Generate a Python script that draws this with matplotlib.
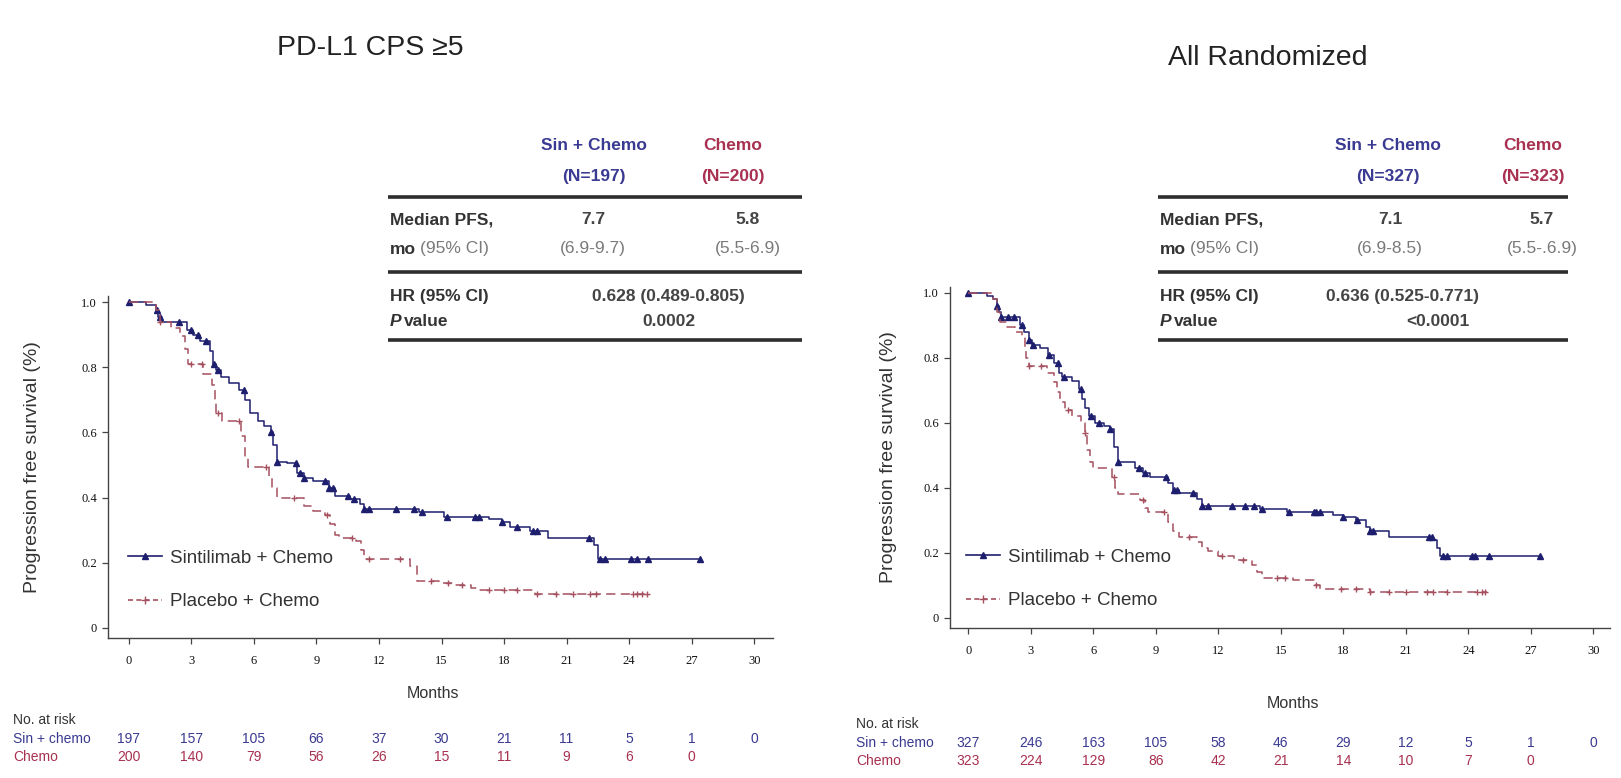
import numpy as np
import matplotlib.pyplot as plt
from matplotlib.lines import Line2D
import matplotlib.transforms as mtransforms

W, H = 1621, 778
plt.rcParams["font.family"] = ["Liberation Sans", "DejaVu Sans"]

BLUE = "#1e1e6e"
RED = "#a4505f"
HEAD_BLUE = "#3a3a92"
HEAD_RED = "#a83050"
TXT = "#333333"
GRAY = "#7a7a7a"

# ---- data ----
months_ticks = [0, 3, 6, 9, 12, 15, 18, 21, 24, 27, 30]

# PD-L1 CPS >=5
cps_sin_t = [0, 0.8, 1.3, 1.4, 1.6, 2.8, 3.1, 3.4, 3.9, 4.05, 4.2, 4.4, 4.8, 5.3, 5.55, 5.8,
             6.2, 6.5, 6.8, 6.9, 7.1, 7.6, 8.05, 8.4, 8.85, 9.6, 9.9, 10.6, 11.1, 11.3, 13.9,
             15.1, 17.3, 17.9, 18.3, 19.25, 20.1, 22.3, 22.5, 27.4]
cps_sin_s = [1.0, 0.99, 0.975, 0.955, 0.94, 0.915, 0.90, 0.88, 0.85, 0.81, 0.79, 0.77, 0.75, 0.73, 0.70, 0.66,
             0.635, 0.62, 0.60, 0.56, 0.51, 0.505, 0.475, 0.46, 0.45, 0.43, 0.405, 0.395, 0.38, 0.365, 0.355,
             0.34, 0.335, 0.325, 0.31, 0.296, 0.276, 0.255, 0.21, 0.21]
cps_sin_cens = [0.0, 1.35, 1.5, 2.4, 3.0, 3.3, 3.7, 4.1, 4.3, 5.5, 6.8, 7.1, 8.0, 8.2, 8.4, 9.4, 9.6,
                9.8, 10.5, 10.8, 11.3, 11.5, 12.8, 13.7, 14.05, 15.25, 16.6, 16.8, 17.9, 18.6, 19.4,
                19.6, 22.05, 22.6, 22.85, 24.1, 24.4, 24.9, 27.4]
cps_pbo_t = [0, 1.3, 1.5, 2.0, 2.45, 2.7, 2.85, 3.57, 3.97, 4.13, 4.2, 4.45, 5.4, 5.57, 5.73,
             6.7, 6.85, 7.1, 8.4, 8.85, 9.4, 9.65, 9.9, 10.1, 10.9, 11.15, 11.3, 13.5, 13.8,
             14.9, 15.6, 16.4, 16.8, 19.5, 24.85]
cps_pbo_s = [1.0, 0.975, 0.94, 0.92, 0.895, 0.855, 0.81, 0.78, 0.745, 0.70, 0.66, 0.635, 0.59, 0.525, 0.495,
             0.465, 0.43, 0.40, 0.375, 0.36, 0.345, 0.32, 0.285, 0.275, 0.266, 0.24, 0.21, 0.19, 0.143,
             0.137, 0.132, 0.122, 0.115, 0.105, 0.105]
cps_pbo_cens = [1.5, 3.0, 3.5, 4.3, 5.3, 6.6, 7.9, 9.5, 10.7, 11.5, 13.0, 14.5, 15.3, 16.0, 17.3,
                18.0, 18.6, 19.6, 20.5, 21.3, 22.1, 22.4, 24.2, 24.4, 24.6, 24.85]
cps_risk_sin = [197, 157, 105, 66, 37, 30, 21, 11, 5, 1, 0]
cps_risk_pbo = [200, 140, 79, 56, 26, 15, 11, 9, 6, 0]
cps_head = ["Sin + Chemo", "(N=197)", "Chemo", "(N=200)"]
cps_median = ["7.7", "5.8"]
cps_ci = ["(6.9-9.7)", "(5.5-6.9)"]
cps_hr = "0.628 (0.489-0.805)"
cps_p = "0.0002"

# All randomized
all_sin_t = [0, 0.9, 1.2, 1.38, 1.46, 1.6, 2.5, 2.7, 2.9, 3.05, 3.45, 3.85, 4.1, 4.35, 4.5, 5.0,
             5.3, 5.45, 5.6, 5.8, 6.1, 6.5, 6.8, 7.0, 7.2, 8.0, 8.4, 8.75, 9.6, 9.85, 10.1, 11.0,
             11.2, 14.0, 15.3, 17.5, 18.0, 18.6, 19.1, 19.3, 20.2, 22.3, 22.5, 22.65, 27.5]
all_sin_s = [1.0, 0.99, 0.98, 0.96, 0.94, 0.925, 0.90, 0.88, 0.855, 0.84, 0.83, 0.81, 0.785, 0.755, 0.74, 0.73,
             0.705, 0.675, 0.645, 0.62, 0.60, 0.59, 0.58, 0.527, 0.48, 0.46, 0.445, 0.435, 0.415, 0.395, 0.385, 0.365,
             0.345, 0.335, 0.325, 0.317, 0.312, 0.30, 0.281, 0.266, 0.25, 0.24, 0.215, 0.19, 0.19]
all_sin_cens = [0.0, 1.4, 1.6, 1.9, 2.2, 2.6, 2.9, 3.1, 3.9, 4.3, 4.6, 5.4, 5.9, 6.3, 6.8, 7.2, 8.2,
                8.5, 9.5, 9.9, 10.0, 10.8, 11.2, 11.5, 12.66, 13.3, 13.7, 14.1, 15.4, 16.6, 16.7,
                16.9, 18.0, 18.66, 19.3, 19.45, 22.1, 22.26, 22.8, 22.98, 24.18, 24.34, 25.0, 27.46]
all_pbo_t = [0, 1.2, 1.38, 1.54, 1.86, 2.25, 2.6, 2.75, 2.8, 2.9, 3.8, 4.1, 4.25, 4.4, 4.65, 5.0,
             5.4, 5.6, 5.7, 5.85, 6.0, 6.9, 7.05, 7.2, 8.25, 8.5, 8.65, 9.6, 9.85, 10.1, 11.0,
             11.2, 11.5, 12.0, 12.74, 13.62, 13.86, 14.1, 15.6, 16.58, 16.9, 19.3, 24.9]
all_pbo_s = [1.0, 0.98, 0.94, 0.91, 0.896, 0.88, 0.866, 0.835, 0.80, 0.775, 0.753, 0.727, 0.696, 0.666, 0.64, 0.62,
             0.60, 0.568, 0.517, 0.48, 0.462, 0.435, 0.40, 0.38, 0.363, 0.337, 0.325, 0.296, 0.266, 0.25, 0.235,
             0.215, 0.205, 0.19, 0.178, 0.163, 0.142, 0.122, 0.117, 0.101, 0.088, 0.081, 0.081]
all_pbo_cens = [2.9, 3.5, 4.8, 5.6, 7.0, 8.4, 9.4, 10.6, 12.2, 13.2, 14.8, 15.2, 16.7, 17.9, 18.6,
                19.3, 20.2, 21.0, 22.0, 22.3, 23.0, 24.4, 24.66, 24.8]
all_risk_sin = [327, 246, 163, 105, 58, 46, 29, 12, 5, 1, 0]
all_risk_pbo = [323, 224, 129, 86, 42, 21, 14, 10, 7, 0]
all_head = ["Sin + Chemo", "(N=327)", "Chemo", "(N=323)"]
all_median = ["7.1", "5.7"]
all_ci = ["(6.9-8.5)", "(5.5-.6.9)"]
all_hr = "0.636 (0.525-0.771)"
all_p = "<0.0001"


fig = plt.figure(figsize=(W / 100, H / 100), dpi=100)


def fx(x):
    return x / W


def fy(y):
    return 1 - y / H


def step_at(t, s, tc):
    idx = np.searchsorted(t, tc, side="right") - 1
    return np.asarray(s)[np.clip(idx, 0, len(s) - 1)]


def hline(x0, x1, y):
    fig.add_artist(Line2D([fx(x0), fx(x1)], [fy(y), fy(y)], transform=fig.transFigure,
                          color="#2e2e2e", lw=2.6, solid_capstyle="butt"))


def panel(rect, xlim, title, title_xy, sin, pbo, risk, table, lay):
    ax = fig.add_axes(rect)
    ax.set_xlim(*xlim)
    ax.set_ylim(-0.031, 1.02)
    for sp in ("top", "right"):
        ax.spines[sp].set_visible(False)
    for sp in ("left", "bottom"):
        ax.spines[sp].set_color("#444444")
        ax.spines[sp].set_linewidth(1.0)

    t, s, c = sin
    ax.step(t, s, where="post", color=BLUE, lw=1.1)
    ax.plot(c, step_at(t, s, c), ls="none", marker="^", ms=4, color=BLUE, mec=BLUE)
    t, s, c = pbo
    ax.step(t, s, where="post", color=RED, lw=1.1, ls=(0, (6, 3.5)))
    ax.plot(c, step_at(t, s, c), ls="none", marker="+", ms=5, mew=1.0, color=RED)

    ax.set_xticks(months_ticks)
    ax.set_yticks([0, 0.2, 0.4, 0.6, 0.8, 1.0])
    ax.set_yticklabels(["0", "0.2", "0.4", "0.6", "0.8", "1.0"])
    ax.tick_params(direction="out", length=4, width=0.9, colors="#444444", labelsize=9)
    ax.tick_params(axis="x", pad=8)
    ax.tick_params(axis="y", pad=4)
    for lb in ax.get_xticklabels() + ax.get_yticklabels():
        lb.set_fontfamily("Liberation Serif")
        lb.set_color("#111111")
    ax.set_xlabel("Months", fontsize=11.5, color=TXT)
    ax.xaxis.set_label_coords(*lay["months"])
    ax.set_ylabel("Progression free survival (%)", fontsize=14, color=TXT)
    ax.yaxis.set_label_coords(*lay["ylab"])

    handles = [Line2D([], [], color=BLUE, lw=1.2, marker="^", ms=5),
               Line2D([], [], color=RED, lw=1.2, ls=(0, (3, 2)), marker="+", ms=6)]
    ax.legend(handles, ["Sintilimab + Chemo", "Placebo + Chemo"], loc="center left",
              bbox_to_anchor=(fx(lay["leg"][0]), fy(lay["leg"][1])), bbox_transform=fig.transFigure,
              frameon=False, fontsize=13.5, handlelength=1.8, handletextpad=0.45,
              labelspacing=1.4, borderpad=0, borderaxespad=0, labelcolor=TXT)

    fig.text(fx(title_xy[0]), fy(title_xy[1]), title, fontsize=20.5, color="#222222",
             ha="center", va="center")

    # summary table
    head, med, ci, hr, pv = table
    x0, x1 = lay["tab_x"]
    c1h, c2h, c1, c2, chr_, cp = lay["cols"]
    fs = 12.5
    fig.text(fx(c1h), fy(145), head[0], fontsize=fs, weight="bold", color=HEAD_BLUE, ha="center", va="center")
    fig.text(fx(c1h), fy(177), head[1], fontsize=fs, weight="bold", color=HEAD_BLUE, ha="center", va="center")
    fig.text(fx(c2h), fy(145), head[2], fontsize=fs, weight="bold", color=HEAD_RED, ha="center", va="center")
    fig.text(fx(c2h), fy(177), head[3], fontsize=fs, weight="bold", color=HEAD_RED, ha="center", va="center")
    hline(x0, x1, 197)
    lx = x0 + 2
    fig.text(fx(lx), fy(220), "Median PFS,", fontsize=fs, weight="bold", color=TXT, va="center")
    fig.text(fx(lx), fy(249), "mo", fontsize=fs, weight="bold", color=TXT, va="center")
    fig.text(fx(lx + 30), fy(249), "(95% CI)", fontsize=fs, color=GRAY, va="center")
    fig.text(fx(c1), fy(220), med[0], fontsize=fs, weight="bold", color="#444444", ha="center", va="center")
    fig.text(fx(c2), fy(220), med[1], fontsize=fs, weight="bold", color="#444444", ha="center", va="center")
    fig.text(fx(c1), fy(249), ci[0], fontsize=fs, color=GRAY, ha="center", va="center")
    fig.text(fx(c2), fy(249), ci[1], fontsize=fs, color=GRAY, ha="center", va="center")
    hline(x0, x1, 272)
    fig.text(fx(lx), fy(296), "HR (95% CI)", fontsize=fs, weight="bold", color=TXT, va="center")
    fig.text(fx(chr_), fy(296), hr, fontsize=fs, weight="bold", color="#444444", ha="center", va="center")
    fig.text(fx(lx), fy(322), "P", fontsize=fs, weight="bold", style="italic", color=TXT, va="center")
    fig.text(fx(lx + 14), fy(322), "value", fontsize=fs, weight="bold", color=TXT, va="center")
    fig.text(fx(cp), fy(322), pv, fontsize=fs, weight="bold", color="#444444", ha="center", va="center")
    hline(x0, x1, 340)

    # number at risk
    rs, rp = risk
    tr = mtransforms.blended_transform_factory(ax.transData, fig.transFigure)
    rx, ry = lay["risk"]
    fig.text(fx(rx), fy(ry), "No. at risk", fontsize=10, color="#333333", va="center")
    fig.text(fx(rx), fy(ry + 19), "Sin + chemo", fontsize=10, color=HEAD_BLUE, va="center")
    fig.text(fx(rx), fy(ry + 37), "Chemo", fontsize=10, color=HEAD_RED, va="center")
    for m, n in zip(months_ticks, rs):
        ax.text(m, fy(ry + 19), str(n), transform=tr, fontsize=10, color=HEAD_BLUE, ha="center", va="center")
    for m, n in zip(months_ticks, rp):
        ax.text(m, fy(ry + 37), str(n), transform=tr, fontsize=10, color=HEAD_RED, ha="center", va="center")
    return ax


# left panel: axes spans x 108..773 px, y 295..638 px
panel([fx(108), fy(638), (773 - 108) / W, (638 - 295.5) / H], (-1.0, 30.9),
      "PD-L1 CPS \u22655", (370, 48),
      (cps_sin_t, cps_sin_s, cps_sin_cens), (cps_pbo_t, cps_pbo_s, cps_pbo_cens),
      (cps_risk_sin, cps_risk_pbo),
      (cps_head, cps_median, cps_ci, cps_hr, cps_p),
      {"months": (0.489, -0.14), "ylab": (-0.1, 0.5), "leg": (128, 580),
       "tab_x": (388, 802), "cols": (594, 733, 593, 748, 668, 669), "risk": (13, 720)})

# right panel: axes spans x 950..1610 px, y 286..628 px
panel([fx(950), fy(628), (1610 - 950) / W, (628 - 286.5) / H], (-0.87, 30.8),
      "All Randomized", (1268, 58),
      (all_sin_t, all_sin_s, all_sin_cens), (all_pbo_t, all_pbo_s, all_pbo_cens),
      (all_risk_sin, all_risk_pbo),
      (all_head, all_median, all_ci, all_hr, all_p),
      {"months": (0.52, -0.2), "ylab": (-0.08, 0.5), "leg": (966, 579),
       "tab_x": (1158, 1568), "cols": (1388, 1533, 1390, 1542, 1402, 1438), "risk": (856, 724)})

fig.savefig("out.png", dpi=100, facecolor="white")
